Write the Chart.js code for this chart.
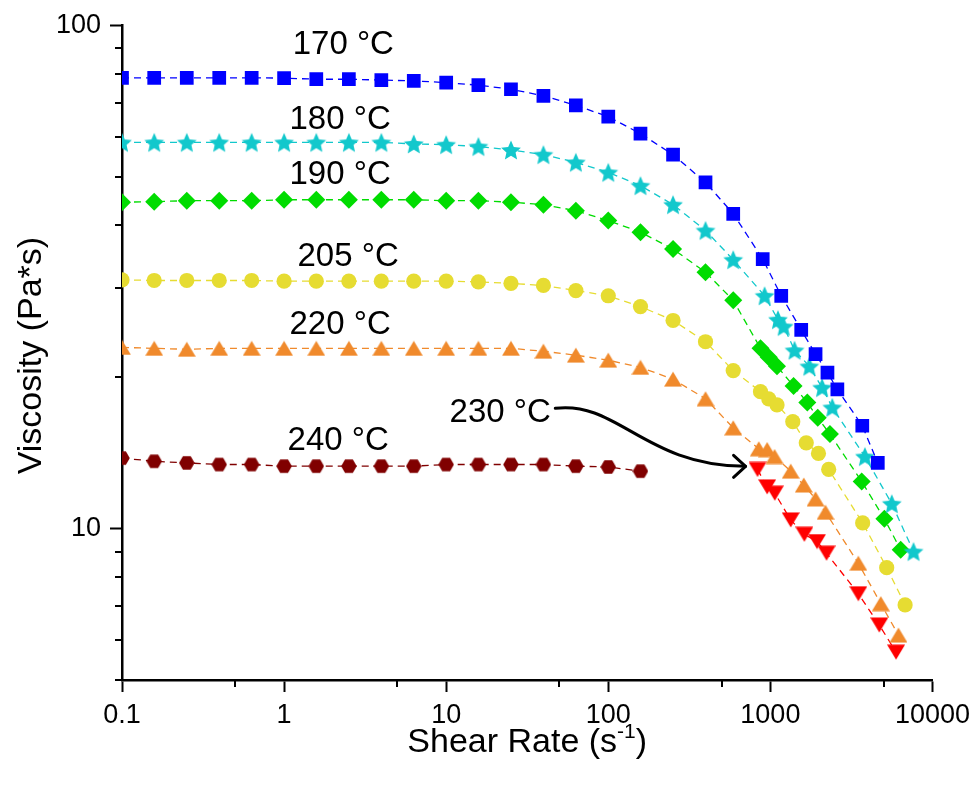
<!DOCTYPE html>
<html>
<head>
<meta charset="utf-8">
<script src="https://cdn.jsdelivr.net/npm/chart.js@4/dist/chart.umd.min.js"></script>
<style>
  html, body { margin: 0; padding: 0; background: #fff; }
  #wrap { width: 977px; height: 789px; }
</style>
</head>
<body>
<div id="wrap"><canvas id="viscChart" width="977" height="789"></canvas></div>
<script>
// shear rates of the rotational sweep (shared by all temperatures)
const shearLow = [0.1, 0.158, 0.251, 0.398, 0.631, 1, 1.58, 2.51, 3.98, 6.31, 10, 15.8, 25.1, 39.8, 63.1, 100, 158, 251, 398, 590];

const visc170Low = [78.6, 78.6, 78.6, 78.6, 78.6, 78.5, 78.1, 78.1, 77.8, 77.5, 76.9, 76.0, 74.6, 72.4, 69.3, 65.8, 60.9, 55.3, 48.7, 42.2];
const shear170High = [897, 1167, 1550, 1900, 2250, 2590, 3690, 4600];
const visc170High = [34.3, 29.0, 24.8, 22.2, 20.4, 18.9, 16.0, 13.5];

const visc180Low = [58.5, 58.5, 58.5, 58.5, 58.5, 58.5, 58.5, 58.5, 58.5, 58.1, 57.9, 57.4, 56.5, 55.3, 53.4, 51.0, 48.0, 44.0, 39.1, 34.2];
const shear180High = [921, 1114, 1208, 1410, 1740, 2085, 2410, 3830, 5610, 7640];
const visc180High = [29.0, 26.0, 25.2, 22.6, 21.0, 19.05, 17.4, 13.9, 11.2, 9.0];

const visc190Low = [44.5, 44.6, 44.8, 44.8, 44.8, 45.0, 45.0, 45.0, 45.0, 45.0, 44.8, 44.8, 44.5, 44.0, 42.8, 40.9, 38.8, 35.9, 32.3, 28.4];
const shear190High = [869, 977, 1099, 1390, 1690, 1960, 2330, 3660, 5050, 6370];
const visc190High = [22.8, 21.9, 21.0, 19.2, 17.8, 16.6, 15.4, 12.4, 10.45, 9.07];

const visc205Low = [31.2, 31.1, 31.1, 31.1, 31.1, 31.0, 31.0, 31.0, 31.0, 31.0, 31.0, 30.9, 30.7, 30.4, 29.7, 29.0, 27.6, 25.9, 23.5, 20.6];
const shear205High = [869, 977, 1099, 1375, 1665, 1980, 2290, 3710, 5220, 6780];
const visc205High = [18.7, 18.1, 17.6, 16.3, 14.8, 14.1, 13.1, 10.26, 8.36, 7.05];

const visc220Low = [22.9, 22.8, 22.7, 22.8, 22.8, 22.8, 22.8, 22.8, 22.8, 22.8, 22.8, 22.8, 22.8, 22.5, 22.1, 21.6, 20.9, 19.8, 18.1, 15.85];
const shear220High = [848, 955, 1062, 1335, 1608, 1900, 2190, 3490, 4800, 6170];
const visc220High = [14.4, 14.35, 13.9, 13.0, 12.2, 11.45, 10.77, 8.53, 7.09, 6.14];

// 230 °C only has capillary data
const shear230 = [833, 955, 1065, 1335, 1620, 1940, 2220, 3490, 4700, 5960];
const visc230 = [13.1, 12.1, 11.75, 10.4, 9.74, 9.42, 8.93, 7.42, 6.43, 5.68];

// 240 °C only has the first part of the sweep
const visc240 = [13.8, 13.6, 13.5, 13.4, 13.4, 13.3, 13.3, 13.3, 13.3, 13.3, 13.4, 13.4, 13.4, 13.4, 13.3, 13.25, 13.0];

const xTickValues = [0.1, 0.5, 1, 5, 10, 50, 100, 500, 1000, 5000, 10000];
const xTickLabels = ['0.1', '', '1', '', '10', '', '100', '', '1000', '', '10000'];
const yTickValues = [5, 6, 7, 8, 9, 10, 20, 30, 40, 50, 60, 70, 80, 90, 100];
const yTickLabels = ['', '', '', '', '', '10', '', '', '', '', '', '', '', '', '100'];

const tempLabels = ['170 °C', '180 °C', '190 °C', '205 °C', '220 °C', '230 °C', '240 °C'];
const tempLabelX = [1.13, 1.08, 1.08, 1.21, 1.08, 10.5, 1.05];
const tempLabelY = [87.6, 62.2, 48.4, 33.3, 24.4, 16.3, 14.3];

// arrow from the 230 °C label to its first point
const arrowFrom = [47.1, 17.33];
const arrowTo = [703, 13.29];

const FONT = '"Liberation Sans", Arial, Helvetica, sans-serif';

function markerCanvas(w, h, color, path) {
  const c = document.createElement('canvas');
  c.width = w; c.height = h;
  const g = c.getContext('2d');
  g.fillStyle = color;
  g.beginPath();
  path(g, w / 2, h / 2);
  g.closePath();
  g.fill();
  return c;
}

function starMarker(color) {
  return markerCanvas(22, 22, color, (g, cx, cy) => {
    for (let k = 0; k < 10; k++) {
      const a = -Math.PI / 2 + k * Math.PI / 5;
      const r = k % 2 ? 4.8 : 10.4;
      const px = cx + r * Math.cos(a), py = cy + 1 + r * Math.sin(a);
      k ? g.lineTo(px, py) : g.moveTo(px, py);
    }
  });
}

function hexMarker(color) {
  return markerCanvas(16, 16, color, (g, cx, cy) => {
    for (let k = 0; k < 6; k++) {
      const a = k * Math.PI / 3;
      const px = cx + 7.8 * Math.cos(a), py = cy + 7.8 * Math.sin(a);
      k ? g.lineTo(px, py) : g.moveTo(px, py);
    }
  });
}

function triMarker(color, down) {
  return markerCanvas(18, 16, color, (g, cx, cy) => {
    const s = down ? -1 : 1;
    g.moveTo(cx, cy - s * 7.5);
    g.lineTo(cx + 9, cy + s * 7.5);
    g.lineTo(cx - 9, cy + s * 7.5);
  });
}

function pairs(xs, ys) {
  return ys.map((v, i) => ({ x: xs[i], y: v }));
}

function series(label, xs, ys, color, style, radius) {
  return {
    label: label,
    data: pairs(xs, ys),
    showLine: true,
    borderColor: color,
    backgroundColor: color,
    borderWidth: 1.3,
    borderDash: [7, 5],
    tension: 0,
    pointStyle: style,
    pointRadius: radius,
    pointHoverRadius: radius,
    pointBorderWidth: 0,
    pointBackgroundColor: color,
    clip: { left: 0, top: 20, right: 20, bottom: 20 }
  };
}

const datasets = [
  series('170 °C', shearLow.concat(shear170High), visc170Low.concat(visc170High), '#0000FF', 'rect', 9.7),
  series('180 °C', shearLow.concat(shear180High), visc180Low.concat(visc180High), '#12C8CC', starMarker('#12C8CC'), 10),
  series('190 °C', shearLow.concat(shear190High), visc190Low.concat(visc190High), '#00DC00', 'rectRot', 9),
  series('205 °C', shearLow.concat(shear205High), visc205Low.concat(visc205High), '#E6DC32', 'circle', 7.6),
  series('220 °C', shearLow.concat(shear220High), visc220Low.concat(visc220High), '#F08A2C', triMarker('#F08A2C', false), 9),
  series('230 °C', shear230, visc230, '#FF0000', triMarker('#FF0000', true), 9),
  series('240 °C', shearLow.slice(0, visc240.length), visc240, '#800000', hexMarker('#800000'), 8)
];

// minor ticks, axis titles, temperature labels and the arrow
const decorations = {
  id: 'decorations',
  afterDraw(chart) {
    const { ctx, chartArea: area } = chart;
    const xs = chart.scales.x, ys = chart.scales.y;
    ctx.save();

    ctx.strokeStyle = '#000';
    ctx.lineWidth = 2;
    ctx.beginPath();
    xs.ticks.forEach(t => {
      if (t.major) return;
      const px = Math.round(xs.getPixelForValue(t.value));
      ctx.moveTo(px, area.bottom);
      ctx.lineTo(px, area.bottom + 7);
    });
    ys.ticks.forEach(t => {
      if (t.major) return;
      const py = Math.round(ys.getPixelForValue(t.value));
      ctx.moveTo(area.left - 7, py);
      ctx.lineTo(area.left, py);
    });
    ctx.stroke();

    ctx.fillStyle = '#000';
    // x axis title with superscript
    const big = '34px ' + FONT, small = '21px ' + FONT;
    const partA = 'Shear Rate (s', partB = '-1', partC = ')';
    ctx.font = big;
    const wA = ctx.measureText(partA).width, wC = ctx.measureText(partC).width;
    ctx.font = small;
    const wB = ctx.measureText(partB).width;
    const cx = (area.left + area.right) / 2;
    let tx = cx - (wA + wB + wC) / 2;
    const base = 752;
    ctx.textBaseline = 'alphabetic';
    ctx.textAlign = 'left';
    ctx.font = big; ctx.fillText(partA, tx, base); tx += wA;
    ctx.font = small; ctx.fillText(partB, tx, base - 14); tx += wB;
    ctx.font = big; ctx.fillText(partC, tx, base);

    // y axis title
    ctx.save();
    ctx.translate(41, (area.top + area.bottom) / 2 + 3);
    ctx.rotate(-Math.PI / 2);
    ctx.textAlign = 'center';
    ctx.font = big;
    ctx.fillText('Viscosity (Pa*s)', 0, 0);
    ctx.restore();

    // temperature labels
    ctx.font = '33px ' + FONT;
    ctx.textAlign = 'left';
    tempLabels.forEach((txt, i) => {
      ctx.fillText(txt, xs.getPixelForValue(tempLabelX[i]), ys.getPixelForValue(tempLabelY[i]));
    });

    // curved arrow
    const x0 = xs.getPixelForValue(arrowFrom[0]), y0 = ys.getPixelForValue(arrowFrom[1]);
    const x1 = xs.getPixelForValue(arrowTo[0]), y1 = ys.getPixelForValue(arrowTo[1]);
    ctx.lineWidth = 3;
    ctx.lineCap = 'round';
    ctx.lineJoin = 'round';
    ctx.beginPath();
    ctx.moveTo(x0, y0);
    ctx.bezierCurveTo(x0 + 62, y0 - 8, x1 - 100, y1, x1, y1);
    ctx.stroke();
    ctx.beginPath();
    ctx.moveTo(x1 - 12, y1 - 11);
    ctx.lineTo(x1, y1);
    ctx.lineTo(x1 - 12, y1 + 11);
    ctx.stroke();

    ctx.restore();
  }
};

const tickFont = { family: FONT, size: 27 };

new Chart(document.getElementById('viscChart'), {
  type: 'scatter',
  data: { datasets: datasets },
  options: {
    responsive: false,
    devicePixelRatio: 1,
    animation: false,
    layout: { padding: { left: 0, right: 37, top: 24, bottom: 0 } },
    plugins: { legend: { display: false }, tooltip: { enabled: false } },
    scales: {
      x: {
        type: 'logarithmic',
        min: 0.1,
        max: 10000,
        afterBuildTicks: s => { s.ticks = xTickValues.map((v, i) => ({ value: v, major: xTickLabels[i] !== '' })); },
        afterFit: s => { s.height = 109; },
        ticks: {
          autoSkip: false,
          maxRotation: 0,
          padding: 7,
          color: '#000',
          font: tickFont,
          callback: (v, i) => xTickLabels[i]
        },
        grid: {
          display: true,
          drawOnChartArea: false,
          drawTicks: true,
          tickLength: 12,
          tickWidth: 2,
          tickColor: c => (c.tick && c.tick.major) ? '#000' : 'rgba(0,0,0,0)'
        },
        border: { display: true, color: '#000', width: 2.5 }
      },
      y: {
        type: 'logarithmic',
        min: 5,
        max: 100,
        afterBuildTicks: s => { s.ticks = yTickValues.map((v, i) => ({ value: v, major: yTickLabels[i] !== '' })); },
        afterFit: s => { s.width = 122; },
        ticks: {
          autoSkip: false,
          padding: 9,
          color: '#000',
          font: tickFont,
          callback: (v, i) => yTickLabels[i]
        },
        grid: {
          display: true,
          drawOnChartArea: false,
          drawTicks: true,
          tickLength: 12,
          tickWidth: 2,
          tickColor: c => (c.tick && c.tick.major) ? '#000' : 'rgba(0,0,0,0)'
        },
        border: { display: true, color: '#000', width: 2.5 }
      }
    }
  },
  plugins: [decorations]
});
</script>
</body>
</html>
